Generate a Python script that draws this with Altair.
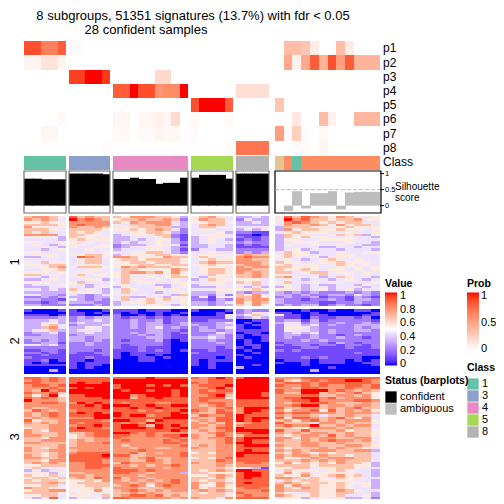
import altair as alt
import pandas as pd

FONT = "Liberation Sans"
W, H = 488, 491
OX, OY = 8, 8

GROUPS = [(5, 24, 66), (5, 69, 110), (9, 113, 188), (5, 191, 233), (4, 236, 269), (12, 275, 380)]
PROB_EDGES = [41, 55, 70, 84, 98, 112, 126, 141, 155]
PROB_NAMES = ["p1", "p2", "p3", "p4", "p5", "p6", "p7", "p8"]

P1 = [.85,.85,.65,.65,.8, .02,.02,0,0,0, 0,0,0,0,0,0,0,0,0, 0,0,0,0,0, 0,0,0,0, 0,.35,.35,.3,.1,0,0,.35,.1,0,0,0]
P2 = [.06,.06,.15,.15,.06, 0,0,0,0,0, 0,0,0,0,0,0,0,0,0, 0,0,0,0,0, 0,0,0,0, 0,.45,.07,.45,.8,.4,.85,.5,.8,.4,.4,.4]
P3 = [0,0,0,0,0, .9,.9,1,1,.92, 0,0,0,0,0,.2,.2,0,0, 0,0,0,0,0, 0,0,0,0, 0,0,0,0,0,0,0,0,0,0,0,0]
P4 = [0,0,0,0,0, 0,0,0,0,0, .8,.8,1,.85,.85,.55,.6,.6,1, 0,0,0,0,0, .17,.17,.17,.17, 0,0,0,0,0,0,0,0,0,0,0,0]
P5 = [0,0,0,0,0, 0,0,0,0,0, 0,0,0,0,0,0,0,0,0, .85,1,1,1,.8, 0,0,0,0, .3,0,0,0,0,0,0,0,0,0,0,0]
P6 = [0,0,0,0,.04, 0,0,0,0,0, .05,.05,0,.05,.05,.08,.05,.2,0, .04,0,0,0,.04, 0,0,0,0, 0,0,.12,0,0,.35,.07,0,0,.38,.38,.38]
P7 = [0,0,.05,.05,0, 0,0,0,0,0, .04,.04,0,.03,.03,.06,.04,.04,0, .02,0,0,0,0, 0,0,0,0, .5,.03,.25,.02,0,.04,0,0,0,0,0,0]
P8 = [0,0,0,0,0, 0,0,0,0,.015, 0,0,0,0,0,0,0,.015,0, 0,0,0,0,.03, .7,.7,.7,.7, 0,0,.02,.03,0,.05,0,0,0,0,0,0]
PROBS = [P1, P2, P3, P4, P5, P6, P7, P8]

CLASSES = ["1"]*5 + ["3"]*5 + ["4"]*9 + ["5"]*5 + ["8"]*4 + ["7", "2", "1"] + ["2"]*9
CLASS_DOMAIN = ["1", "3", "4", "5", "8", "2", "7"]
CLASS_COLORS = ["#66C2A5", "#8DA0CB", "#E78AC3", "#A6D854", "#B3B3B3", "#FC8D62", "#E5C494"]

SIL = [.84,.84,.82,.82,.82, 1,1,1,1,.98, .83,.83,.87,.83,.83,.68,.71,.71,.87,
       .87,.96,.96,.96,.84, 1,1,1,1, 0,-.17,.45,-.09,.39,.39,.45,-.12,.41,.43,.43,.43]
STATUS = ["confident"]*28 + ["ambiguous"]*12

BAND1 = [
"67765 86766 657776653 56754 3343 486876576545",
"76764 97876 566766762 57664 2433 597866566755",
"55655 77777 657677743 55665 3343 478765656644",
"66665 78777 546667743 46764 3333 476676575664",
"75545 76676 455666633 46654 4445 366655456555",
"66654 66665 556567642 45544 3434 375665565545",
"65644 65654 445566532 44453 2211 456555445445",
"77774 66554 345556621 45554 1101 365544565635",
"55553 65545 334445621 34554 2112 365655445443",
"44443 56555 334345531 34543 1212 355445555444",
"55445 54544 343445432 34544 2322 345554445443",
"45434 55445 233345541 33443 1212 354454454433",
"44543 54455 234455432 33443 1111 344443344344",
"44345 44544 344455431 24433 2222 345344434443",
"55444 44445 445566432 44544 2323 465534454455",
"45554 55665 345556654 45554 6766 565544455444",
"33454 48765 776555766 56545 7877 565453455444",
"44444 45664 566566665 45655 7766 454345654544",
"54655 44664 556656665 46766 7776 655445565554",
"55466 45554 555665566 55655 6776 564554565454",
"45567 56665 576766655 45554 7677 665554455545",
"44556 44554 466555576 45665 7766 655654554545",
"55545 45544 567767575 45665 7676 664566455454",
"66454 56455 565555565 44655 6676 554446445454",
"44344 45444 564454566 43554 6676 675453465443",
"33454 44553 465545454 34655 5554 454344345434",
"55544 56444 564554455 44554 6564 564454554445",
"34445 54344 454443345 34454 5464 454343344354",
"33344 44345 354445345 33344 4343 354344344434",
"44343 64543 465445454 44455 5565 554345345344",
"33333 55543 564443445 33344 3233 323232223232",
"44332 43234 454545436 33242 6574 332322332432",
"22323 33233 463344355 25154 6675 232231221321",
"33221 43232 464565645 22132 7677 322122321332",
"22123 33322 345564545 33234 7576 322221122322",
"33222 22232 344455434 33233 6575 232331232212",
]
BAND2 = [
"10001 10001 111011100 10001 2322 000100100110",
"00000 11010 101001001 00010 2354 110010000001",
"11101 11001 200101010 00015 3564 511011000011",
"22223 23233 212212122 11114 2343 211021122120",
"33343 23343 223223122 11222 0011 233131222221",
"33453 34333 223233123 22234 0101 344232232232",
"33564 23334 223233223 32233 1011 244342322333",
"33674 33543 223234232 23234 1001 255432222323",
"34563 34443 222233221 23323 1111 254432322332",
"23342 33433 223233212 22243 0110 234342322222",
"22332 23333 222323211 22332 1011 233232212322",
"33332 33233 222233211 33432 1001 232232232212",
"23232 33232 212223101 22322 0101 222323222222",
"22331 22322 222222100 22232 0100 122222132122",
"44342 22322 212222100 22222 0110 212212212212",
"22222 22222 211211100 22212 1010 111221112112",
"11221 22212 111212101 11211 0100 212111111111",
"22121 21122 101111100 21111 0010 111111111211",
"11211 11112 101101000 11111 1000 111111111111",
"21111 11211 100110100 11101 0100 111212111100",
"11201 11011 000110000 10111 0000 011101110101",
"10100 10111 000000000 10100 0000 100101110011",
"11111 10110 000000000 10100 0010 000100000001",
"00000 10100 000000000 00100 3000 000000100000",
"00030 00000 000000000 00000 0000 000030000000",
"00000 00000 000000000 00000 0000 000000000000",
]
BAND3 = [
"88787 88888 888898888 87898 8999 777888888888",
"78787 88888 999999999 77888 9999 865787889987",
"88777 89889 999999999 87888 9999 788878888887",
"78878 99999 899989898 78889 9999 877878778878",
"77787 89899 899999999 77897 9999 776887778778",
"76978 99999 989989989 78788 9999 877999787676",
"87786 99999 999999989 78887 9998 866996767865",
"75795 88999 997899989 77896 9998 777886677675",
"87876 88889 996889888 78885 9999 788997867775",
"97776 88888 888888888 78777 8888 778897777887",
"77887 79898 878887788 77887 8888 767888766676",
"77777 88989 998898899 76787 8888 778996776776",
"76677 88889 889889888 77678 7999 866776767866",
"68767 78888 888787889 87687 7998 757785867675",
"76787 89898 988888898 76688 7988 878877767776",
"76787 88899 989978899 68778 9888 767764667664",
"67677 77799 888888999 76688 9899 858876786574",
"85667 88887 998869888 67688 9898 675786767775",
"76767 87888 878798888 76768 6788 866657767665",
"66677 78898 899869898 77678 7888 787796676774",
"56677 89887 899989889 76688 9888 665577767664",
"76577 88888 888888898 67678 9999 866866675665",
"76667 66788 998787777 66787 8899 767677667665",
"77667 56788 887787889 76687 6888 656776867665",
"66577 56677 877777787 76778 8999 775767766774",
"66777 67677 787777878 66678 8988 766767877675",
"77666 67778 777777887 66678 9988 666776676664",
"66667 67777 767777778 67677 8999 766776667765",
"76567 77777 776776677 76677 8888 656667676654",
"76677 67777 777877777 66677 8988 767677766773",
"66567 78888 778676778 56577 9999 657656566664",
"76567 88889 886677778 66677 9888 767767665664",
"77667 88888 776786677 56578 8888 755676777664",
"66577 88887 776687677 66687 8888 666767676664",
"67676 77887 687777677 76677 7887 575656576653",
"55666 77888 776767787 66676 7777 666656666553",
"56445 77887 877777677 66665 4431 556645566544",
"34344 77777 888787777 65676 9988 465554565443",
"45535 66777 887767773 66555 8998 575645555443",
"65564 77677 777677777 55676 8998 655755675643",
"56656 67687 867767777 66575 8988 776565465544",
"65665 55657 767676787 65665 8888 465665555443",
"66676 56666 776767787 76576 8988 676566565553",
"55664 55666 678757877 75575 8888 757665565453",
"76655 55565 777666777 75665 7887 765765565443",
"56677 55575 678767677 67676 7778 766665576544",
"66665 45554 667676666 65664 8777 654465566443",
"55664 55546 678878676 66665 7877 765565564453",
"43484 35453 887777767 76647 8888 455345453342",
]

VALUE_LABELS = ["1", "0.8", "0.6", "0.4", "0.2", "0"]
VALUE_TICK_Y = [296, 310, 323, 337, 351, 364]
PROB_LABELS = ["1", "0.5", "0"]
PROB_TICK_Y = [296, 323, 349]

def cells():
    # Each cell overlaps its right neighbour by a pixel so that no seam shows; the last one of a group does not.
    rows = []
    col = 0
    for n, left, right in GROUPS:
        for k in range(n):
            x0 = round(left + (right - left) * k / n)
            x1 = round(left + (right - left) * (k + 1) / n)
            rows.append((col, x0, x1 + (1 if k < n - 1 else 0)))
            col += 1
    return rows

COLS = cells()

prob_rows = []
for r, (name, vals, y0, y1) in enumerate(zip(PROB_NAMES, PROBS, PROB_EDGES, PROB_EDGES[1:])):
    for (c, x0, x1), v in zip(COLS, vals):
        prob_rows.append(dict(x0=x0 - OX, x1=x1 - OX, y0=y0 - OY, y1=y1 - OY + (1 if r < 7 else 0), prob=v, p=name))
prob_df = pd.DataFrame(prob_rows)

class_df = pd.DataFrame([dict(x0=x0 - OX, x1=x1 - OX, y0=156 - OY, y1=170 - OY, cls=k) for (c, x0, x1), k in zip(COLS, CLASSES)])
sil_df = pd.DataFrame([dict(x0=x0 - OX, x1=x1 - OX, sil=s, base=0, status=t) for (c, x0, x1), s, t in zip(COLS, SIL, STATUS)])

heat_rows = []
for band, top, bottom in [(BAND1, 216, 306), (BAND2, 309, 374), (BAND3, 377, 499)]:
    n = len(band)
    for i, line in enumerate(band):
        digits = line.replace(" ", "")
        assert len(digits) == 40, line
        y0 = round(top + (bottom - top) * i / n)
        y1 = round(top + (bottom - top) * (i + 1) / n) + (1 if i < n - 1 else 0)
        for (c, x0, x1), d in zip(COLS, digits):
            heat_rows.append(dict(x0=x0 - OX, x1=x1 - OX, y0=y0 - OY, y1=y1 - OY, value=int(d) / 9))
heat_df = pd.DataFrame(heat_rows)

XS = alt.Scale(domain=[0, W], range=[0, W], nice=False, zero=False)
YS = alt.Scale(domain=[0, H], range=[0, H], nice=False, zero=False)
SILS = alt.Scale(domain=[1.08, -0.23], range=[171 - OY, 213 - OY], nice=False, zero=False)

def X(f="x0"):
    return alt.X(f"{f}:Q", scale=XS, axis=None)

def Y(f="y0"):
    return alt.Y(f"{f}:Q", scale=YS, axis=None)

VALUE_SCALE = alt.Scale(domain=[0, .5, 1], range=["#0000ff", "#ffffff", "#ff0000"], interpolate="lab")
PROB_SCALE = alt.Scale(domain=[0, 1], range=["#ffffff", "#ff0000"], interpolate="lab")

LEG = dict(orient="none", titleFont=FONT, labelFont=FONT, titleFontSize=10.5, titleFontWeight="bold",
           labelFontSize=11, labelColor="#000", titleColor="#000", padding=0)
GRAD = dict(gradientThickness=12, gradientStrokeWidth=0, labelExpr="''", titlePadding=3)
SYM = dict(symbolType="square", symbolSize=128, symbolStrokeWidth=0, rowPadding=0, labelOffset=3, titlePadding=4.5)

heat = alt.Chart(heat_df).mark_rect(strokeWidth=0, binSpacing=0).encode(
    x=X(), x2="x1:Q", y=Y(), y2="y1:Q",
    color=alt.Color("value:Q", scale=VALUE_SCALE, legend=alt.Legend(
        title="Value", legendX=385 - OX, legendY=279 - OY, values=[0, 1],
        gradientLength=73, **GRAD, **LEG)),
)
probs = alt.Chart(prob_df).mark_rect(strokeWidth=0, binSpacing=0).encode(
    x=X(), x2="x1:Q", y=Y(), y2="y1:Q",
    color=alt.Color("prob:Q", scale=PROB_SCALE, legend=alt.Legend(
        title="Prob", legendX=467 - OX, legendY=279 - OY, values=[0, 1],
        gradientLength=58, **GRAD, **LEG)),
)
cls = alt.Chart(class_df).mark_rect(strokeWidth=0, binSpacing=0).encode(
    x=X(), x2="x1:Q", y=Y(), y2="y1:Q",
    color=alt.Color("cls:N", scale=alt.Scale(domain=CLASS_DOMAIN, range=CLASS_COLORS), legend=alt.Legend(
        title="Class", legendX=467 - OX, legendY=363 - OY, values=["1", "3", "4", "5", "8"], **SYM, **LEG)),
)
bars = alt.Chart(sil_df).mark_rect(strokeWidth=0, binSpacing=0).encode(
    x=X(), x2="x1:Q",
    y=alt.Y("sil:Q", scale=SILS, axis=None), y2="base:Q",
    color=alt.Color("status:N", scale=alt.Scale(domain=["confident", "ambiguous"], range=["#000000", "#bebebe"]),
                    legend=alt.Legend(title="Status (barplots)", legendX=385 - OX, legendY=376 - OY, **SYM, **LEG)),
)

frame_df = pd.DataFrame([dict(x0=l - OX, x1=r - OX, y0=171 - OY, y1=213 - OY) for n, l, r in GROUPS[:5]])
frames = alt.Chart(frame_df).mark_rect(fillOpacity=0, stroke="#6e6e6e", strokeWidth=1.2, binSpacing=0).encode(
    x=X(), x2="x1:Q", y=Y(), y2="y1:Q")
frame_f = alt.Chart(pd.DataFrame([dict(x0=GROUPS[5][1] - OX, x1=GROUPS[5][2] - OX + 1, y0=171 - OY, y1=213 - OY)])).mark_rect(
    fillOpacity=0, stroke="#000", strokeWidth=1.2, binSpacing=0).encode(x=X(), x2="x1:Q", y=Y(), y2="y1:Q")

SIL_TICKS = [1, .5, 0]
SIL_TICK_LABELS = ["1", "0.5", "0"]
tick_df = pd.DataFrame(dict(x0=[380 - OX] * 3, x1=[384 - OX] * 3, xt=[385 - OX] * 3, s=SIL_TICKS, t=SIL_TICK_LABELS))
ticks = alt.Chart(tick_df).mark_rule(color="#000", strokeWidth=1).encode(
    x=X(), x2="x1:Q", y=alt.Y("s:Q", scale=SILS, axis=None))
tick_text = alt.Chart(tick_df).mark_text(font=FONT, fontSize=7.5, align="left", baseline="middle", color="#000").encode(
    x=X("xt"), y=alt.Y("s:Q", scale=SILS, axis=None), text="t:N")
dash = alt.Chart(pd.DataFrame(dict(x0=[275 - OX], x1=[381 - OX], s=[.5]))).mark_rule(
    color="#bdbdbd", strokeDash=[4, 2], strokeWidth=1).encode(x=X(), x2="x1:Q", y=alt.Y("s:Q", scale=SILS, axis=None))

leg_tick_rows = []
for y in VALUE_TICK_Y:
    leg_tick_rows += [dict(x0=385 - OX, x1=388 - OX, y0=y - OY), dict(x0=394 - OX, x1=397 - OX, y0=y - OY)]
for y in PROB_TICK_Y:
    leg_tick_rows += [dict(x0=467 - OX, x1=470 - OX, y0=y - OY), dict(x0=476 - OX, x1=479 - OX, y0=y - OY)]
leg_ticks = alt.Chart(pd.DataFrame(leg_tick_rows)).mark_rule(color="#fff", strokeWidth=1).encode(
    x=X(), x2="x1:Q", y=Y())

def texts(items, **kw):
    df = pd.DataFrame([dict(x0=x - OX, y0=y - OY, t=t) for t, x, y in items])
    return alt.Chart(df).mark_text(font=FONT, baseline="middle", color="#000", **kw).encode(x=X(), y=Y(), text="t:N")

title1 = texts([("8 subgroups, 51351 signatures (13.7%) with fdr < 0.05", 193, 16)], fontSize=13, align="center")
title2 = texts([("28 confident samples", 146, 30)], fontSize=13, align="center")
row_labels = texts([(n, 383, (a + b) / 2) for n, a, b in zip(PROB_NAMES, PROB_EDGES, PROB_EDGES[1:])] + [("Class", 383, 162)],
                   fontSize=12, align="left")
sil_label = texts([("Silhouette", 395, 187), ("score", 395, 198)], fontSize=10, align="left")
band_labels = texts([("1", 15, 262), ("2", 15, 341), ("3", 15, 437)], fontSize=13, align="center", angle=270)
value_labels = texts(list(zip(VALUE_LABELS, [400] * 6, VALUE_TICK_Y)), fontSize=11, align="left")
prob_labels = texts(list(zip(PROB_LABELS, [481] * 3, PROB_TICK_Y)), fontSize=11, align="left")

chart = alt.layer(
    heat, probs, cls, bars, frames, frame_f, dash, ticks, tick_text, leg_ticks,
    title1, title2, row_labels, sil_label, band_labels, value_labels, prob_labels,
).resolve_scale(y="independent", color="independent").properties(
    width=W, height=H, padding=0, autosize=alt.AutoSizeParams(type="none"),
).configure_view(stroke=None)

chart.save("out.html", embed_options={"renderer": "svg", "actions": False})
